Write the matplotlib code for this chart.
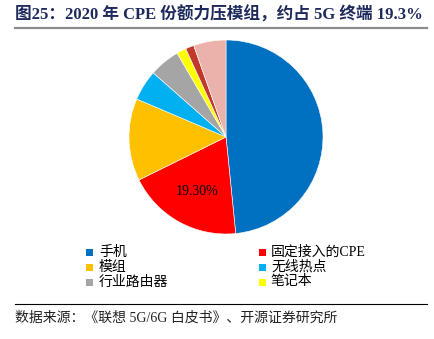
import matplotlib
matplotlib.use("Agg")
import matplotlib.pyplot as plt
from matplotlib.lines import Line2D
from matplotlib.patches import Rectangle
import numpy as np

categories = ["手机", "固定接入的CPE", "模组", "无线热点", "行业路由器", "笔记本", "车载", "其他"]
shares = [48.4, 19.3, 13.7, 5.1, 5.1, 1.6, 1.4, 5.4]
colors = ["#0070C0", "#FF0000", "#FFC000", "#00B0F0", "#A5A5A5", "#FFFF00", "#C0392B", "#EAB2AA"]
legend_order = [0, 1, 2, 3, 4, 5]  # categories listed in the legend
highlight = 1  # slice whose value is printed on the chart

title = "图25：2020 年 CPE 份额力压模组，约占 5G 终端 19.3%"
source = "数据来源：《联想 5G/6G 白皮书》、开源证券研究所"

W, H = 435, 339
fig = plt.figure(figsize=(W / 100, H / 100), dpi=100)

serif_cjk = ["Liberation Serif", "Noto Sans CJK SC"]

# Title and rule beneath it
fig.text(15 / W, 1 - 15 / H, title, family=serif_cjk, fontsize=12, fontweight="bold",
         color="#1F2A5C", va="center", ha="left")
fig.add_artist(Line2D([15 / W, 427 / W], [1 - 28 / H, 1 - 28 / H], color="#8C8C8C", lw=1.6))

# Pie
cx, cy, r = 226, 137, 97
ax = fig.add_axes([(cx - r) / W, 1 - (cy + r) / H, 2 * r / W, 2 * r / H])
wedges, _ = ax.pie(shares, colors=colors, startangle=90, counterclock=False,
                   radius=1.0, wedgeprops=dict(linewidth=0.4, edgecolor="white"))
ax.set_xlim(-1, 1)
ax.set_ylim(-1, 1)
ax.set_aspect("equal")
ax.axis("off")

# Value label inside the highlighted slice
start = 90 - 360 * sum(shares[:highlight]) / 100
mid = start - 360 * shares[highlight] / 200
rr = 0.62
ax.text(rr * np.cos(np.radians(mid)), rr * np.sin(np.radians(mid)) - 0.02,
        f"{shares[highlight]:.2f}%", family="Liberation Serif", fontsize=10,
        ha="center", va="center", color="black")

# Legend (two columns)
col_x = [90, 262]
row_y = [252, 267, 282]
for k, idx in enumerate(legend_order):
    col, row = k % 2, k // 2
    x, y = col_x[col], row_y[row]
    fig.add_artist(Rectangle(((x - 3.5) / W, 1 - (y + 3.5) / H), 7 / W, 7 / H,
                             facecolor=colors[idx], edgecolor="none"))
    fig.text((x + 9) / W, 1 - y / H, categories[idx], family=serif_cjk, fontsize=10,
             va="center", ha="left", color="black")

# Source line
fig.add_artist(Line2D([15 / W, 427 / W], [1 - 304 / H, 1 - 304 / H], color="black", lw=0.8))
fig.text(15 / W, 1 - 318 / H, source, family=serif_cjk, fontsize=10,
         va="center", ha="left", color="#222222")

fig.savefig("out.png", dpi=100, facecolor="white")
